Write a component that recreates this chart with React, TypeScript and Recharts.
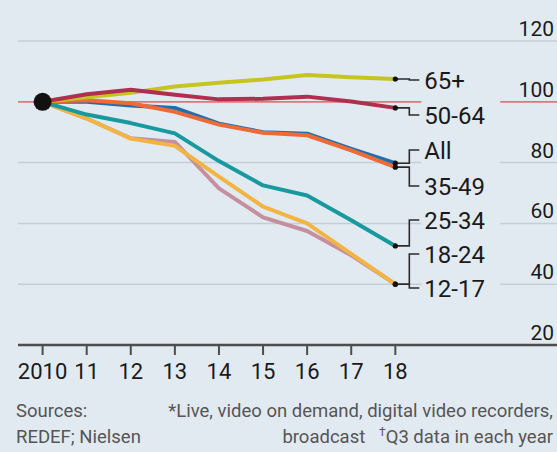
import {
  LineChart,
  Line,
  XAxis,
  YAxis,
  ReferenceLine,
  ReferenceDot,
} from 'recharts';

const YEARS = [2010, 2011, 2012, 2013, 2014, 2015, 2016, 2017, 2018];
const YEAR_LABELS = ['2010', '11', '12', '13', '14', '15', '16', '17', '18'];
const Y_TICKS = [20, 40, 60, 80, 100, 120];
const GRID_BROKEN = [40, 60, 80];

const AGE_65_PLUS = [100, 101.5, 103, 105, 106.3, 107.3, 108.8, 108.1, 107.5];
const AGE_50_64 = [100, 102.5, 104, 102.3, 100.8, 101, 101.7, 100.1, 98];
const ALL_AGES = [100, 100, 98.8, 98, 92.8, 90, 89.5, 84.5, 79.8];
const AGE_35_49 = [100, 100.5, 99.5, 96.7, 92.5, 89.8, 89, 84, 78.5];
const AGE_25_34 = [100, 95.8, 93, 89.6, 80.5, 72.5, 69.2, 61, 52.6];
const AGE_18_24 = [100, 94.5, 88, 86.8, 71.5, 62, 57.5, 49.5, 40];
const AGE_12_17 = [100, 94.5, 87.9, 85.5, 75.4, 65.5, 60, 50, 40];

const BG = '#e2eaf1';
const INK = '#1a1a1a';
const FONT = 'Roboto, "Noto Sans", sans-serif';

// x domain and the stretch of the gridlines hidden behind the labels
const X_MIN = 2009.442;
const X_MAX = 2021.667;
const GAP_FROM = 2018.59;
const GAP_TO = 2020.38;

// drawn bottom to top
const SERIES = [
  { key: 'a1824', name: '18-24', values: AGE_18_24, color: '#c4909f', labelY: 254 },
  { key: 'a1217', name: '12-17', values: AGE_12_17, color: '#f2b443', labelY: 288 },
  { key: 'a2534', name: '25-34', values: AGE_25_34, color: '#17999e', labelY: 220 },
  { key: 'all', name: 'All', values: ALL_AGES, color: '#1f6fae', labelY: 150 },
  { key: 'a3549', name: '35-49', values: AGE_35_49, color: '#f06a36', labelY: 186 },
  { key: 'a65', name: '65+', values: AGE_65_PLUS, color: '#c6c41e', labelY: 80 },
  { key: 'a5064', name: '50-64', values: AGE_50_64, color: '#b02f4e', labelY: 115 },
];

const chartData = YEARS.map((year, i) => {
  const row: Record<string, number> = { year };
  SERIES.forEach((s) => {
    row[s.key] = s.values[i];
  });
  return row;
});

function makeEndLabel(name: string, labelY: number) {
  return (props: any) => {
    const { x, y, index } = props;
    if (index !== YEARS.length - 1 || x == null || y == null) return null;
    const elbowX = x + 14;
    const stubX = x + 24;
    return (
      <g>
        <path
          d={`M${x},${y} H${elbowX} V${labelY} H${stubX}`}
          fill="none"
          stroke="#2b2b2b"
          strokeWidth={1.6}
        />
        <circle cx={x} cy={y} r={2.6} fill="#111" />
        <text
          x={x + 29}
          y={labelY}
          dy="0.36em"
          fontSize={24}
          fontFamily={FONT}
          fill={INK}
        >
          {name}
        </text>
      </g>
    );
  };
}

const RightTick = (props: any) => {
  const { y, payload } = props;
  return (
    <text x={554} y={y - 5} textAnchor="end" fontSize={21} fontFamily={FONT} fill={INK}>
      {payload.value}
    </text>
  );
};

export default function App() {
  return (
    <div
      style={{
        position: 'absolute',
        left: 0,
        top: 0,
        width: 557,
        height: 452,
        background: BG,
        fontFamily: FONT,
        overflow: 'hidden',
      }}
    >
      <LineChart
        width={557}
        height={452}
        data={chartData}
        margin={{ top: 41, right: 0, bottom: 77, left: 18 }}
      >
        <XAxis
          dataKey="year"
          type="number"
          domain={[X_MIN, X_MAX]}
          ticks={YEARS}
          tickFormatter={(v: number) => YEAR_LABELS[YEARS.indexOf(v)]}
          axisLine={{ stroke: '#4d4d4d', strokeWidth: 2.5 }}
          tickLine={{ stroke: '#4d4d4d', strokeWidth: 2 }}
          tickSize={10}
          tickMargin={8}
          tick={{ fill: INK, fontSize: 22, fontFamily: FONT }}
          interval={0}
          allowDataOverflow
        />
        <YAxis
          orientation="right"
          mirror
          domain={[20, 120]}
          ticks={Y_TICKS}
          axisLine={false}
          tickLine={false}
          tick={RightTick}
          interval={0}
        />
        {/* gridlines, broken where the labels sit */}
        <ReferenceLine y={120} stroke="#c6ced5" strokeWidth={1.5} />
        {GRID_BROKEN.map((v) => (
          <ReferenceLine
            key={`l${v}`}
            segment={[{ x: X_MIN, y: v }, { x: GAP_FROM, y: v }]}
            stroke="#c6ced5"
            strokeWidth={1.5}
          />
        ))}
        {GRID_BROKEN.map((v) => (
          <ReferenceLine
            key={`r${v}`}
            segment={[{ x: GAP_TO, y: v }, { x: X_MAX, y: v }]}
            stroke="#c6ced5"
            strokeWidth={1.5}
          />
        ))}
        <ReferenceLine
          segment={[{ x: X_MIN, y: 100 }, { x: GAP_FROM, y: 100 }]}
          stroke="#e6727e"
          strokeWidth={1.8}
        />
        <ReferenceLine
          segment={[{ x: GAP_TO, y: 100 }, { x: X_MAX, y: 100 }]}
          stroke="#e6727e"
          strokeWidth={1.8}
        />
        {SERIES.map((s) => (
          <Line
            key={s.key}
            dataKey={s.key}
            type="linear"
            stroke={s.color}
            strokeWidth={4}
            strokeLinejoin="round"
            dot={false}
            activeDot={false}
            isAnimationActive={false}
            label={makeEndLabel(s.name, s.labelY)}
          />
        ))}
        <ReferenceDot x={2010} y={100} r={9} fill="#111" stroke="none" />
      </LineChart>
      <div
        style={{
          position: 'absolute',
          left: 16,
          top: 398,
          fontSize: 18.5,
          lineHeight: '26px',
          color: '#555',
        }}
      >
        Sources:
        <br />
        REDEF; Nielsen
      </div>
      <div
        style={{
          position: 'absolute',
          right: 4,
          top: 398,
          fontSize: 18.5,
          lineHeight: '26px',
          color: '#555',
          textAlign: 'right',
          whiteSpace: 'nowrap',
        }}
      >
        *Live, video on demand, digital video recorders,
        <br />
        broadcast&nbsp;&nbsp;&nbsp;<sup style={{ fontSize: 12, lineHeight: 0 }}>†</sup>Q3 data in each year
      </div>
    </div>
  );
}
